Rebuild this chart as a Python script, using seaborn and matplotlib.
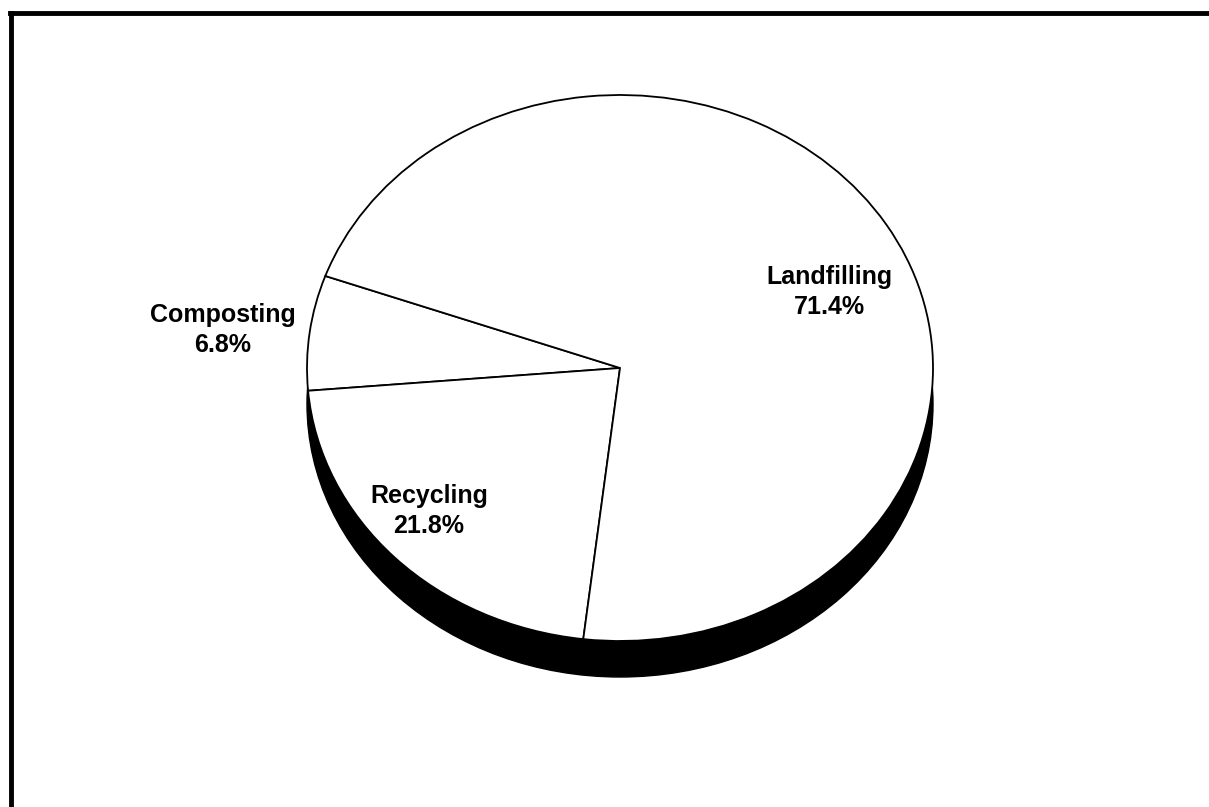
import matplotlib
matplotlib.use("Agg")
import matplotlib.pyplot as plt
from matplotlib.patches import Ellipse, Rectangle
from matplotlib.lines import Line2D
import seaborn as sns

# data
categories = ["Composting", "Recycling", "Landfilling"]
shares = [6.8, 21.8, 71.4]

# label centres in image pixels (x, y from top)
label_x = [223, 429, 829]
label_y = [330, 511, 292]

sns.set_theme(style="white")
plt.rcParams["font.family"] = ["Liberation Sans", "DejaVu Sans"]

W, H = 1209, 807
cx, cy = 620, 368      # pie centre in pixels
rx, ry = 313, 273      # ellipse radii in pixels
depth = 36 / ry        # side thickness in data units

fig = plt.figure(figsize=(W / 100, H / 100), dpi=100)
ax = fig.add_axes([0, 0, 1, 1])

def to_data(px, py):
    return (px - cx) / rx, (cy - py) / ry

# pie top (elliptical because the aspect is not equal)
wedges, _ = ax.pie(shares, colors=["white"] * len(shares), startangle=160.3,
                   counterclock=True, radius=1,
                   wedgeprops=dict(edgecolor="black", linewidth=1.3))
for w in wedges:
    w.set_zorder(3)

# dark side of the 3D pie
ax.add_patch(Ellipse((0, -depth), 2, 2, facecolor="black", edgecolor="black", zorder=1))
ax.add_patch(Rectangle((-1, -depth), 2, depth, facecolor="black", edgecolor="none", zorder=1))

for name, val, lx, ly in zip(categories, shares, label_x, label_y):
    x, y = to_data(lx, ly)
    ax.text(x, y, f"{name}\n{val:.1f}%", ha="center", va="center",
            fontsize=18, fontweight="bold", color="black", linespacing=1.3, zorder=5)

ax.set_aspect("auto")
ax.set_xlim(-cx / rx, (W - cx) / rx)
ax.set_ylim((cy - H) / ry, cy / ry)
ax.axis("off")

# frame around the chart area (right and bottom edges fall outside the image)
fig.add_artist(Line2D([10 / W, 1.0], [1 - 12.5 / H, 1 - 12.5 / H], color="black",
                      linewidth=3.5, solid_capstyle="projecting"))
fig.add_artist(Line2D([10.5 / W, 10.5 / W], [0.0, 1 - 12.5 / H], color="black",
                      linewidth=3.5, solid_capstyle="projecting"))

fig.savefig("out.png", dpi=100, facecolor="white")
plt.close(fig)
